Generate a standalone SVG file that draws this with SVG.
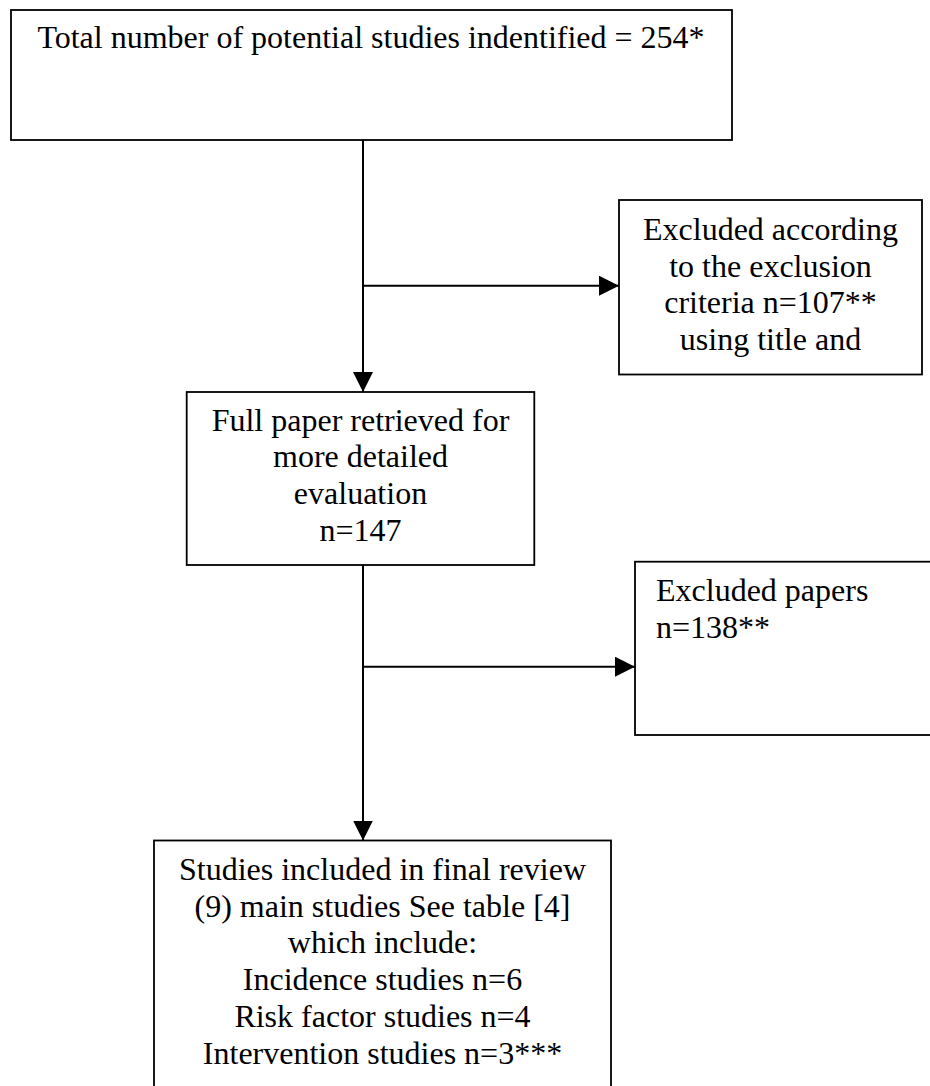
<svg xmlns="http://www.w3.org/2000/svg" width="930" height="1086" viewBox="0 0 930 1086">
<style>
  .box { fill: #ffffff; stroke: #000000; stroke-width: 1.8; }
  .t { font-family: "Liberation Serif", "Times New Roman", serif; font-size: 32px; fill: #000000; }
  .c { text-anchor: middle; }
  .conn { stroke: #000000; stroke-width: 2; fill: none; marker-end: url(#arrow); }
</style>
<defs>
  <marker id="arrow" markerUnits="userSpaceOnUse" markerWidth="20" markerHeight="20" refX="20" refY="10" orient="auto">
    <path d="M0,0 L20,10 L0,20 Z" fill="#000000"/>
  </marker>
</defs>
<rect width="930" height="1086" fill="#ffffff"/>
<g id="connectors">
  <line class="conn" x1="363" y1="140" x2="363" y2="392"/>
  <line class="conn" x1="363" y1="285.7" x2="619" y2="285.7"/>
  <line class="conn" x1="363" y1="565" x2="363" y2="840.5"/>
  <line class="conn" x1="363" y1="666.7" x2="635" y2="666.7"/>
</g>
<g id="node-total">
  <rect class="box" x="11" y="10" width="721" height="130"/>
  <text class="t c" x="371" y="48">Total number of potential studies indentified = 254*</text>
</g>
<g id="node-excluded-criteria">
  <rect class="box" x="619" y="200" width="303" height="174.5"/>
  <text class="t c" x="770.5" y="240">Excluded according</text>
  <text class="t c" x="770.5" y="277">to the exclusion</text>
  <text class="t c" x="770.5" y="313">criteria n=107**</text>
  <text class="t c" x="770.5" y="350">using title and</text>
</g>
<g id="node-full-paper">
  <rect class="box" x="186.7" y="392" width="347.6" height="173"/>
  <text class="t c" x="360.5" y="430.5">Full paper retrieved for</text>
  <text class="t c" x="360.5" y="467">more detailed</text>
  <text class="t c" x="360.5" y="504">evaluation</text>
  <text class="t c" x="360.5" y="540.5">n=147</text>
</g>
<g id="node-excluded-papers">
  <rect class="box" x="635" y="561.7" width="310" height="173.3"/>
  <text class="t" x="656" y="601">Excluded papers</text>
  <text class="t" x="656" y="637.5">n=138**</text>
</g>
<g id="node-included">
  <rect class="box" x="154" y="840.5" width="457" height="260"/>
  <text class="t c" x="382.5" y="880">Studies included in final review</text>
  <text class="t c" x="382.5" y="917">(9) main studies See table [4]</text>
  <text class="t c" x="382.5" y="953">which include:</text>
  <text class="t c" x="382.5" y="990">Incidence studies n=6</text>
  <text class="t c" x="382.5" y="1027">Risk factor studies n=4</text>
  <text class="t c" x="382.5" y="1064">Intervention studies n=3***</text>
</g>
</svg>
